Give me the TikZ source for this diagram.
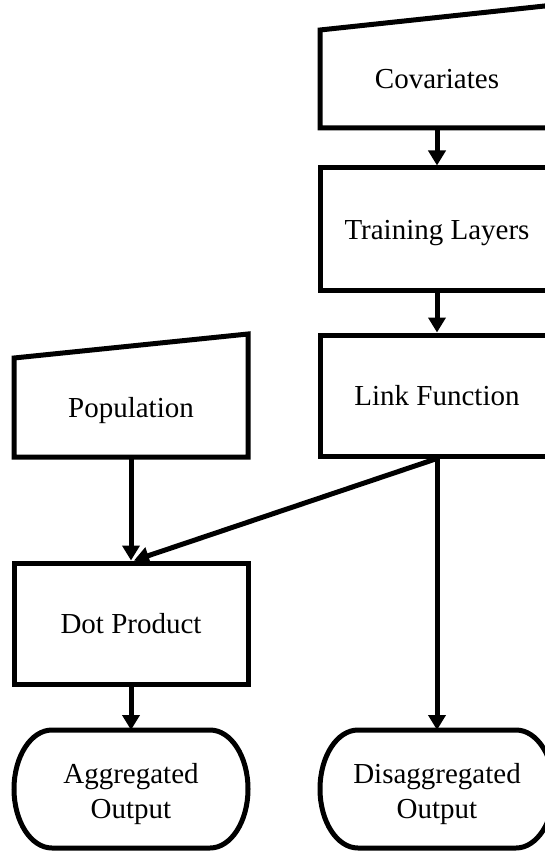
\documentclass[tikz,border=0pt]{standalone}
\usepackage{fontspec}
\setmainfont{Liberation Serif}
\usetikzlibrary{arrows.meta,calc}
\begin{document}
\begin{tikzpicture}[x=1pt,y=1pt,
  lw/.style={line width=5pt},
  txt/.style={font=\fontsize{29}{35}\selectfont,align=center},
  oneline/.style={txt,text height=20pt,text depth=0pt},
  boxnode/.style={draw,lw,rectangle,minimum width=234pt,inner sep=0pt,oneline},
  plain/.style={rectangle,minimum width=234pt,inner sep=0pt,outer sep=0pt},
  conn/.style={lw,-{Triangle[width=17pt,length=15pt]}}]
\useasboundingbox (0,0) rectangle (545,-853);
\clip (0,0) rectangle (545,-853);
% right column
\node[plain,oneline,minimum height=98pt] (cov) at (437,-79) {Covariates};
\draw[lw] (cov.south west) -- (cov.north west) -- ($(cov.north east)+(0,25)$) -- (cov.south east) -- cycle;
\node[boxnode,minimum height=122pt] (tl) at (437,-229) {Training Layers};
\node[boxnode,minimum height=121pt] (lf) at (437,-395.5) {Link Function};
% left column
\node[plain,oneline,minimum height=99pt] (pop) at (131,-407.5) {Population};
\draw[lw] (pop.south west) -- (pop.north west) -- ($(pop.north east)+(0,24)$) -- (pop.south east) -- cycle;
\node[boxnode,minimum height=121pt] (dp) at (131,-623.5) {Dot Product};
% terminals
\node[plain,minimum height=118pt] (agg) at (131,-789) {};
\draw[lw] ($(agg.north west)+(38,0)$) -- ($(agg.north east)+(-38,0)$)
  arc[start angle=90,end angle=-90,x radius=38pt,y radius=59pt]
  -- ($(agg.south west)+(38,0)$)
  arc[start angle=270,end angle=90,x radius=38pt,y radius=59pt] -- cycle;
\node[txt,inner sep=0pt] (aggtxt) at ($(agg.center)+(0,-5)$) {Aggregated\\Output};
\node[plain,minimum height=118pt] (dis) at (437,-789) {};
\draw[lw] ($(dis.north west)+(38,0)$) -- ($(dis.north east)+(-38,0)$)
  arc[start angle=90,end angle=-90,x radius=38pt,y radius=59pt]
  -- ($(dis.south west)+(38,0)$)
  arc[start angle=270,end angle=90,x radius=38pt,y radius=59pt] -- cycle;
\node[txt,inner sep=0pt] (distxt) at ($(dis.center)+(0,-5)$) {Disaggregated\\Output};
% connectors
\draw[conn] (cov.south) -- (tl.north);
\draw[conn] (tl.south) -- (lf.north);
\draw[conn] (pop.south) -- (dp.north);
\draw[conn] (lf.south) -- ($(dp.north)+(3,0)$);
\draw[conn] (lf.south) -- (dis.north);
\draw[conn] (dp.south) -- (agg.north);
\end{tikzpicture}
\end{document}
